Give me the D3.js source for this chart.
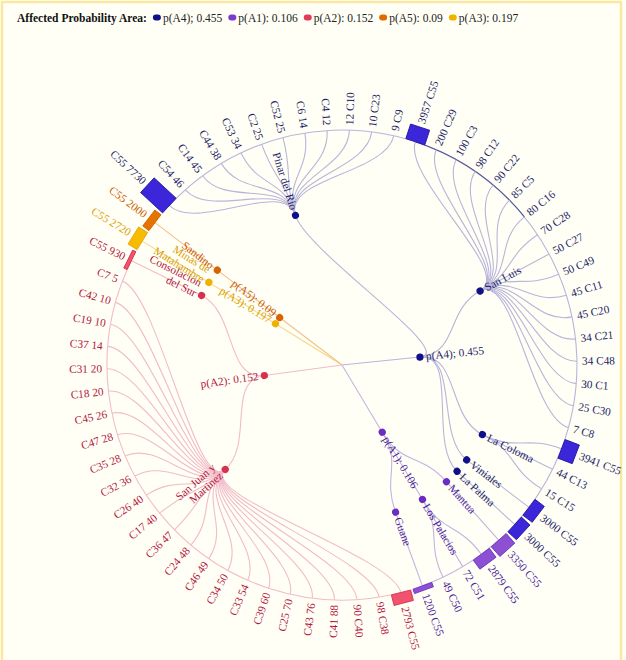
<!DOCTYPE html>
<html><head><meta charset="utf-8">
<script src="https://cdn.jsdelivr.net/npm/d3@7"></script>
<style>
body{margin:0;background:#fffff6;}
svg{display:block;}
text{font-family:"Liberation Serif",serif;}
</style></head><body>
<svg id="c" width="626" height="660"></svg>
<script>
// ---------- data ----------
const areaNames = ["p(A4)", "p(A1)", "p(A2)", "p(A3)", "p(A5)"];
const areaProbs = [0.455, 0.106, 0.152, 0.197, 0.09];
const areaSeps  = ["; ", ": ", ": ", ": ", ": "];
const legendOrder = ["p(A4)", "p(A1)", "p(A2)", "p(A5)", "p(A3)"];

const municipalityNames = ["Pinar del Rio", "San Luis", "La Coloma", "Viniales", "La Palma",
  "Mantua", "Los Palacios", "Guane", "San Juan y Martinez", "Consolacion del Sur",
  "Minas de Matahambre", "Sandino"];
const municipalityArea = ["p(A4)", "p(A4)", "p(A4)", "p(A4)", "p(A4)",
  "p(A1)", "p(A1)", "p(A1)", "p(A2)", "p(A2)", "p(A3)", "p(A5)"];

const pinarDelRio = [["C55",7730],["C54",46],["C14",45],["C44",38],["C53",34],["C2",25],["C52",25],["C6",14],["C4",12],["C10",12],["C23",10],["C9",9]];
const sanLuis = [["C55",3957],["C29",200],["C3",100],["C12",98],["C22",90],["C5",85],["C16",80],["C28",70],["C27",50],["C49",50],["C11",45],["C20",45],["C21",34],["C48",34],["C1",30],["C30",25],["C8",7]];
const laColoma = [["C55",3941],["C13",44],["C15",15]];
const viniales = [["C55",3000]];
const laPalma = [["C55",3000]];
const mantua = [["C55",3350]];
const losPalacios = [["C55",2879],["C51",72],["C50",49]];
const guane = [["C55",1200]];
const sanJuan = [["C55",2793],["C38",98],["C40",90],["C41",88],["C43",76],["C25",70],["C39",60],["C33",54],["C34",50],["C46",49],["C24",48],["C36",47],["C17",40],["C26",40],["C32",36],["C35",28],["C47",28],["C45",26],["C18",20],["C31",20],["C37",14],["C19",10],["C42",10],["C7",5]];
const consolacion = [["C55",930]];
const minas = [["C55",2720]];
const sandino = [["C55",2000]];
const municipalityLeaves = [pinarDelRio, sanLuis, laColoma, viniales, laPalma, mantua, losPalacios, guane, sanJuan, consolacion, minas, sandino];

// ---------- styles ----------
const style = {
  "p(A4)": {dot:"#10108a", text:"#1d1d68", link:"#b9b5da", rect:"#3b27d9", rectStroke:"#21139e", sw:"#10108a"},
  "p(A1)": {dot:"#6b2cc2", text:"#4a1c9a", link:"#c5b3e2", rect:"#8d50d3", rectStroke:"#6a2fc0", sw:"#7a3cd0"},
  "p(A2)": {dot:"#d8304f", text:"#b3173f", link:"#f2bcc8", rect:"#f1536f", rectStroke:"#d2304f", sw:"#e23b5a"},
  "p(A3)": {dot:"#f0b000", text:"#d9a000", link:"#f6d88e", rect:"#f7bb00", rectStroke:"#e2a400", sw:"#f0b400"},
  "p(A5)": {dot:"#d96400", text:"#c85a00", link:"#f4c08c", rect:"#e87200", rectStroke:"#cf6000", sw:"#e06a00"}
};

const W = 626, H = 660, cx = 342, cy = 365, R = 235;
const offset = 310 * Math.PI / 180;
const FS = 11.3;

// ---------- hierarchy ----------
const rootData = {name: "root", children: areaNames.map((a, i) => ({
  name: a, area: a, prob: areaProbs[i], sep: areaSeps[i],
  children: municipalityNames.map((m, j) => ({m, j})).filter(o => municipalityArea[o.j] === a)
    .map(o => ({name: o.m, area: a, children: municipalityLeaves[o.j].map(l => ({name: l[0], value: l[1], area: a}))}))
}))};

const root = d3.hierarchy(rootData);
d3.cluster().size([2 * Math.PI, R]).separation(() => 1)(root);

const ang = d => d.x + offset;
const deg = d => ((ang(d) * 180 / Math.PI) % 360 + 360) % 360;
const isC55 = d => !d.children && d.data.name === "C55";
const rectH = d3.scaleLinear().domain([0, 7730]).range([0, 30]);
const rectW = 20;
const pt = (a, r) => [r * Math.sin(a), -r * Math.cos(a)];

const svg = d3.select("#c");
svg.append("rect").attr("width", W).attr("height", H).attr("fill", "#fffff6");
svg.append("rect").attr("x", 2).attr("y", 2).attr("width", 619).attr("height", 700)
  .attr("fill", "none").attr("stroke", "#fbe6a2").attr("stroke-width", 2.5);

const g = svg.append("g").attr("transform", `translate(${cx},${cy})`);

// group arcs at leaf radius
root.children.forEach(a => {
  const lv = a.leaves();
  const a0 = ang(lv[0]), a1 = ang(lv[lv.length - 1]);
  if (a1 - a0 <= 0) return;
  const p = d3.path();
  p.moveTo(...pt(a0, R));
  p.arc(0, 0, R, a0 - Math.PI / 2, a1 - Math.PI / 2);
  g.append("path").attr("d", p.toString()).attr("fill", "none")
    .attr("stroke", style[a.data.area].link).attr("stroke-width", 1.1);
});
// darker arc portion along San Luis start
(() => {
  const sl = root.descendants().find(d => d.data.name === "San Luis");
  const lv = sl.leaves();
  const a0 = ang(lv[0]), a1 = ang(lv[6]);
  const p = d3.path();
  p.moveTo(...pt(a0, R));
  p.arc(0, 0, R, a0 - Math.PI / 2, a1 - Math.PI / 2);
  g.append("path").attr("d", p.toString()).attr("fill", "none")
    .attr("stroke", "#2a2a80").attr("stroke-opacity", 0.7).attr("stroke-width", 1.1);
})();

// links
const linkGen = d3.linkRadial().angle(d => ang(d)).radius(d => d.y);
g.append("g").attr("fill", "none").selectAll("path")
  .data(root.links())
  .join("path")
  .attr("d", d => d.source.depth === 0
    ? `M0,0L${pt(ang(d.target), d.target.y).join(",")}`
    : linkGen(d))
  .attr("stroke", d => style[d.target.data.area].link)
  .attr("stroke-width", 1.1);

// rects for C55 leaves
g.append("g").selectAll("rect")
  .data(root.leaves().filter(isC55))
  .join("rect")
  .attr("transform", d => `rotate(${deg(d) - 90})`)
  .attr("x", R).attr("y", -rectW / 2)
  .attr("width", d => rectH(d.data.value))
  .attr("height", rectW)
  .attr("fill", d => style[d.data.area].rect)
  .attr("stroke", d => style[d.data.area].rectStroke)
  .attr("stroke-width", 0.8);

// internal node dots
g.append("g").selectAll("circle")
  .data(root.descendants().filter(d => d.depth > 0 && d.children))
  .join("circle")
  .attr("transform", d => `rotate(${deg(d) - 90}) translate(${d.y},0)`)
  .attr("r", 3.6)
  .attr("fill", d => style[d.data.area].dot);

// leaf labels
g.append("g").selectAll("text")
  .data(root.leaves())
  .join("text")
  .attr("transform", d => {
    const a = deg(d);
    const r = R + (isC55(d) ? rectH(d.data.value) + 4 : 5);
    return `rotate(${a - 90}) translate(${r},0) rotate(${a >= 180 ? 180 : 0})`;
  })
  .attr("dy", "0.32em")
  .attr("text-anchor", d => deg(d) < 180 ? "start" : "end")
  .attr("font-size", FS)
  .attr("fill", d => style[d.data.area].text)
  .text(d => deg(d) < 180 ? `${d.data.value} ${d.data.name}` : `${d.data.name} ${d.data.value}`);

// internal labels
const measure = svg.append("text").attr("font-size", FS).attr("visibility", "hidden");
function wrap(str, maxW) {
  const words = str.split(" "); const lines = []; let cur = "";
  words.forEach(w => {
    const t = cur ? cur + " " + w : w;
    measure.text(t);
    if (measure.node().getComputedTextLength() > maxW && cur) { lines.push(cur); cur = w; }
    else cur = t;
  });
  lines.push(cur);
  return lines;
}
g.append("g").selectAll("text")
  .data(root.descendants().filter(d => d.depth > 0 && d.children))
  .join("text")
  .attr("transform", d => {
    const a = deg(d);
    return `rotate(${a - 90}) translate(${d.y},0) rotate(${a >= 180 ? 180 : 0})`;
  })
  .attr("text-anchor", d => deg(d) < 180 ? "start" : "end")
  .attr("font-size", FS)
  .attr("fill", d => style[d.data.area].text)
  .each(function(d) {
    const t = d3.select(this);
    const x = deg(d) < 180 ? 6 : -6;
    const label = d.depth === 1 ? d.data.name + d.data.sep + d.data.prob : d.data.name;
    const lines = d.depth === 1 ? [label] : wrap(label, 64);
    lines.forEach((ln, i) => {
      t.append("tspan").attr("x", x)
        .attr("dy", i === 0 ? (lines.length > 1 ? "-0.6em" : "0.32em") : "1.0em")
        .text(ln);
    });
  });
measure.remove();

// ---------- legend ----------
const leg = svg.append("g").attr("transform", "translate(17,22)");
const title = leg.append("text").attr("font-size", 11.5).attr("font-weight", "bold")
  .attr("fill", "#111").text("Affected Probability Area:");
let lx = title.node().getComputedTextLength() + 6;
legendOrder.forEach(a => {
  const i = areaNames.indexOf(a);
  leg.append("rect").attr("x", lx).attr("y", -7.5).attr("width", 8).attr("height", 6)
    .attr("rx", 3).attr("fill", style[a].sw);
  const t = leg.append("text").attr("x", lx + 10).attr("font-size", 11.5).attr("fill", "#222")
    .text(a + areaSeps[i] + areaProbs[i]);
  lx += 10 + t.node().getComputedTextLength() + 6;
});
</script>
</body></html>
